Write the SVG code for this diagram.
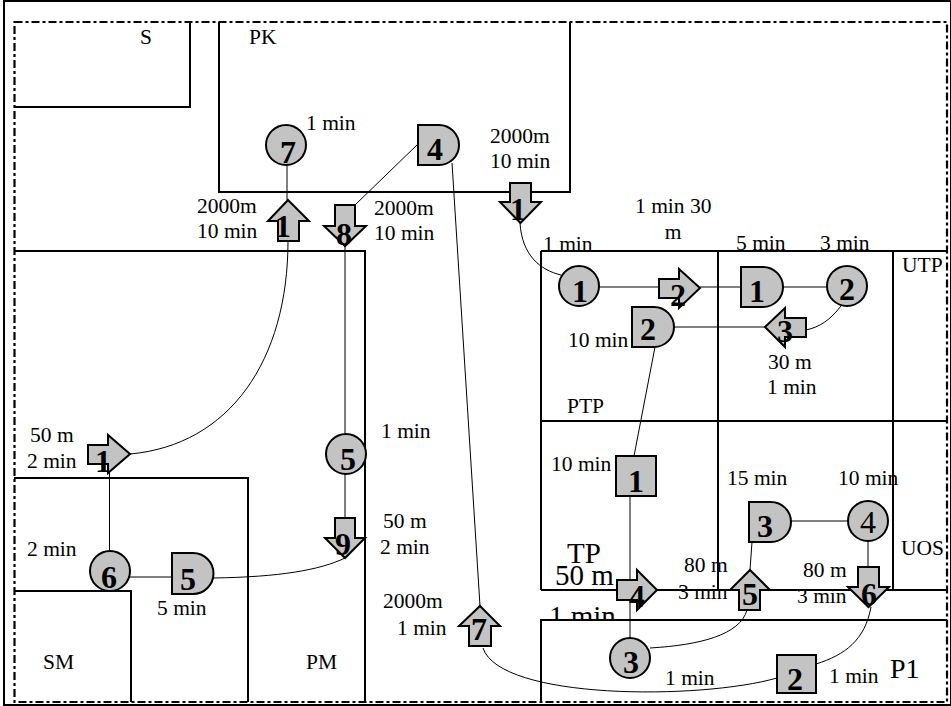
<svg xmlns="http://www.w3.org/2000/svg" width="951" height="706" viewBox="0 0 951 706">
<style>
.frame{fill:none;stroke:#000;stroke-width:2}
.dash{fill:none;stroke:#000;stroke-width:2.2;stroke-dasharray:8 3 3 3}
.room{fill:none;stroke:#000;stroke-width:2}
.conn{fill:none;stroke:#000;stroke-width:1}
.nd{fill:#c3c3c3;stroke:#000;stroke-width:2}
.num{font-family:"Liberation Serif","Times New Roman",serif;font-weight:bold;font-size:32px;text-anchor:middle;fill:#000}
.numr{font-family:"Liberation Serif","Times New Roman",serif;font-size:32px;text-anchor:middle;fill:#000}
.lbl{font-family:"Liberation Serif","Times New Roman",serif;font-size:21.5px;fill:#000}
.big{font-family:"Liberation Serif","Times New Roman",serif;font-size:29px;fill:#000}
</style>
<defs>
<clipPath id="tpclip"><rect x="541" y="420" width="200" height="199"/></clipPath>
</defs>
<rect x="0" y="0" width="951" height="706" fill="#fff"/>
<g id="frame">
<rect class="frame" x="4" y="1" width="947" height="704"/>
<rect class="dash" x="14.5" y="22" width="932.5" height="680"/>
</g>
<g id="rooms">
<path class="room" d="M14,107 H190 V22"/>
<path class="room" d="M219,22 V192 H570 V22"/>
<path class="room" d="M14,251 H365 V702"/>
<path class="room" d="M14,478 H248 V702"/>
<path class="room" d="M14,591 H131 V702"/>
<path class="room" d="M541,251 H947 M541,421 H947 M541,590 H947 M541,251 V590 M718,251 V590 M893,251 V590"/>
<path class="room" d="M541,702 V620 H947"/>
</g>
<g id="room-labels">
<text class="lbl" x="140" y="44">S</text>
<text class="lbl" x="249" y="44">PK</text>
<text class="lbl" x="902" y="272">UTP</text>
<text class="lbl" x="567" y="413">PTP</text>
<text class="lbl" x="901" y="555">UOS</text>
<text class="lbl" x="43" y="669">SM</text>
<text class="lbl" x="306" y="669">PM</text>
<text class="big" x="567" y="563">TP</text>
<text class="big" x="555" y="585">50 m</text>
<text class="big" x="549" y="626" clip-path="url(#tpclip)">1 min</text>
<text class="big" x="890" y="678" style="font-size:28px">P1</text>
</g>
<g id="connectors">
<path class="conn" d="M287,164 V200"/>
<path class="conn" d="M288,241 C288,360 230,445 130,454"/>
<path class="conn" d="M109.5,460 V552"/>
<path class="conn" d="M130,577 H172"/>
<path class="conn" d="M213,578 C280,577 320,570 345,558"/>
<path class="conn" d="M345,246 V434"/>
<path class="conn" d="M345,474 V518"/>
<path class="conn" d="M418,144 L355,205"/>
<path class="conn" d="M452,163 L480,606"/>
<path class="conn" d="M483,648 C500,700 700,700 777,678"/>
<path class="conn" d="M520,223 C522,255 540,270 561,275"/>
<path class="conn" d="M599,287 H659"/>
<path class="conn" d="M700,287 H741"/>
<path class="conn" d="M783,287 H827"/>
<path class="conn" d="M841,306 C830,320 820,327 806,330"/>
<path class="conn" d="M674,327 H765"/>
<path class="conn" d="M655,347 L634,456"/>
<path class="conn" d="M630,496 V638"/>
<path class="conn" d="M750,570 L752,542"/>
<path class="conn" d="M791,521 H848"/>
<path class="conn" d="M868,541 V567"/>
<path class="conn" d="M747,610 C740,635 700,645 650,648"/>
<path class="conn" d="M871,607 C865,640 845,655 816,664"/>
</g>
<g id="pk-c7"><circle class="nd" cx="286" cy="145" r="20"/><text class="num" x="288" y="163">7</text></g>
<g id="pk-d4"><path class="nd" d="M418,125 H439 A20,20 0 0 1 439,165 H418 Z"/><text class="num" x="435" y="160">4</text></g>
<g id="a1-up"><path class="nd" d="M288,200 L309,221 H299 V241 H278 V221 H268 Z"/><text class="num" x="283" y="237">1</text></g>
<g id="a8-down"><path class="nd" d="M335,205 H355 V226 H366 L345,246 L324,226 H335 Z"/><text class="num" x="344" y="245">8</text></g>
<g id="a1-down"><path class="nd" d="M510,183 H531 V202 H541 L520.5,223 L500,202 H510 Z"/><text class="num" x="518" y="220">1</text></g>
<g id="a1-right"><path class="nd" d="M88,445 H108 V435 L130,454 L108,473 V464 H88 Z"/><text class="num" x="103" y="472">1</text></g>
<g id="pm-c5"><circle class="nd" cx="346" cy="454" r="20"/><text class="num" x="348" y="470">5</text></g>
<g id="a9-down"><path class="nd" d="M335,518 H355 V538 H365 L345,558 L325,538 H335 Z"/><text class="num" x="343" y="555">9</text></g>
<g id="pm-c6"><circle class="nd" cx="110" cy="571" r="20"/><text class="num" x="109" y="588">6</text></g>
<g id="pm-d5"><path class="nd" d="M172,553 H193 A20.5,20.5 0 0 1 193,594 H172 Z"/><text class="num" x="188" y="590">5</text></g>
<g id="a7-up"><path class="nd" d="M480,606 L500,626 H491 V646 H469 V626 H459 Z"/><text class="num" x="479" y="640">7</text></g>
<g id="ptp-c1"><circle class="nd" cx="579" cy="286" r="20"/><text class="num" x="580" y="302">1</text></g>
<g id="a2-right"><path class="nd" d="M659,279 H679 V269 L700,288 L679,308 V298 H659 Z"/><text class="num" x="678" y="306">2</text></g>
<g id="utp-d1"><path class="nd" d="M741,267 H763 A20,20 0 0 1 763,307 H741 Z"/><text class="num" x="757" y="302">1</text></g>
<g id="utp-c2"><circle class="nd" cx="847" cy="286" r="20"/><text class="num" x="847" y="300">2</text></g>
<g id="a3-left"><path class="nd" d="M765,327 L785,308 V318 H806 V337 H785 V347 Z"/><text class="num" x="785" y="342">3</text></g>
<g id="ptp-d2"><path class="nd" d="M632,307 H654 A20,20 0 0 1 654,347 H632 Z"/><text class="num" x="648" y="340">2</text></g>
<g id="tp-s1"><rect class="nd" x="616" y="456" width="40" height="40"/><text class="num" x="636" y="492">1</text></g>
<g id="a4-right"><path class="nd" d="M617,580 H637 V570 L657,590 L637,610 V600 H617 Z"/><text class="num" x="637" y="607">4</text></g>
<g id="a5-up"><path class="nd" d="M750,570 L770,590 H760 V610 H739 V590 H730 Z"/><text class="num" x="750" y="605">5</text></g>
<g id="uos-d3"><path class="nd" d="M749,502 H771 A20,20 0 0 1 771,542 H749 Z"/><text class="num" x="765" y="537">3</text></g>
<g id="uos-c4"><circle class="nd" cx="868" cy="521" r="20"/><text class="numr" x="868" y="533">4</text></g>
<g id="a6-down"><path class="nd" d="M858,567 H879 V587 H889 L868.5,607 L848,587 H858 Z"/><text class="num" x="869" y="605">6</text></g>
<g id="p1-c3"><circle class="nd" cx="630" cy="658" r="20"/><text class="num" x="631" y="673">3</text></g>
<g id="p1-s2"><rect class="nd" x="777" y="655" width="39" height="38"/><text class="num" x="795" y="690">2</text></g>
<g id="labels">
<text class="lbl" x="306" y="130">1 min</text>
<text class="lbl" x="490" y="143">2000m</text>
<text class="lbl" x="490" y="168">10 min</text>
<text class="lbl" x="197" y="213">2000m</text>
<text class="lbl" x="197" y="238">10 min</text>
<text class="lbl" x="374" y="215">2000m</text>
<text class="lbl" x="374" y="240">10 min</text>
<text class="lbl" x="635" y="213">1 min 30</text>
<text class="lbl" x="673" y="239" text-anchor="middle">m</text>
<text class="lbl" x="543" y="251">1 min</text>
<text class="lbl" x="736" y="250">5 min</text>
<text class="lbl" x="820" y="250">3 min</text>
<text class="lbl" x="568" y="347">10 min</text>
<text class="lbl" x="768" y="369">30 m</text>
<text class="lbl" x="767" y="394">1 min</text>
<text class="lbl" x="381" y="438">1 min</text>
<text class="lbl" x="30" y="442">50 m</text>
<text class="lbl" x="27" y="468">2 min</text>
<text class="lbl" x="551" y="471">10 min</text>
<text class="lbl" x="727" y="485">15 min</text>
<text class="lbl" x="838" y="485">10 min</text>
<text class="lbl" x="383" y="528">50 m</text>
<text class="lbl" x="380" y="554">2 min</text>
<text class="lbl" x="27" y="556">2 min</text>
<text class="lbl" x="684" y="572">80 m</text>
<text class="lbl" x="678" y="599">3 min</text>
<text class="lbl" x="803" y="577">80 m</text>
<text class="lbl" x="797" y="603">3 min</text>
<text class="lbl" x="383" y="608">2000m</text>
<text class="lbl" x="397" y="635">1 min</text>
<text class="lbl" x="157" y="615">5 min</text>
<text class="lbl" x="665" y="685">1 min</text>
<text class="lbl" x="829" y="683">1 min</text>
</g>
</svg>
